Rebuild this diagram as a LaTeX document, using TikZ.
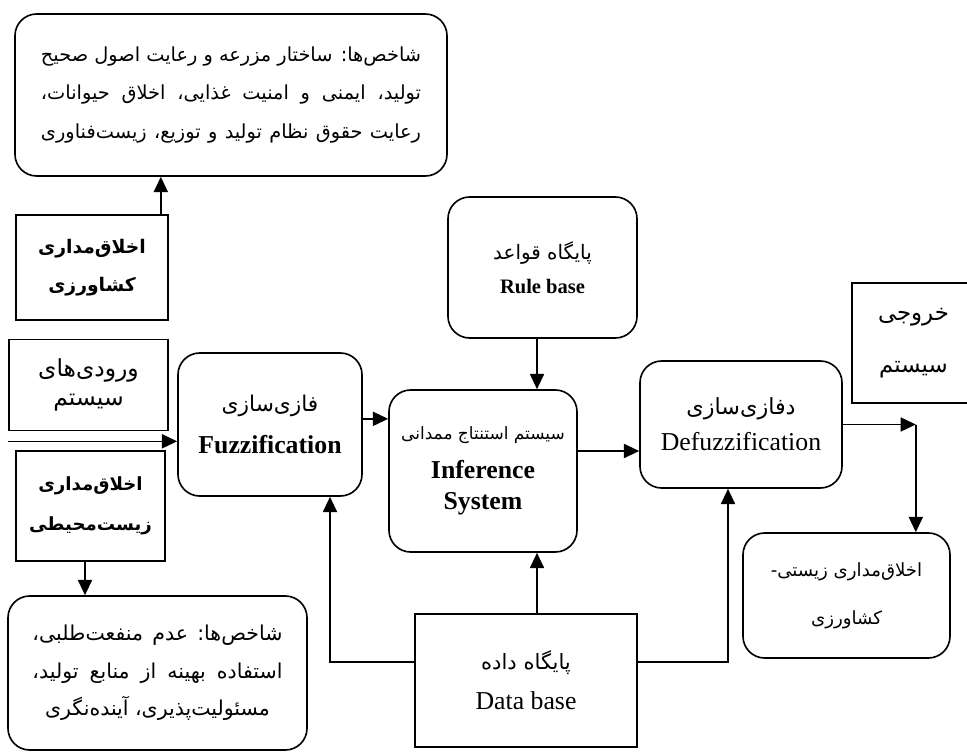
\documentclass[tikz,border=0pt]{standalone}
\usepackage{fontspec}
\setmainfont{Liberation Serif}
\newfontfamily\fa[Script=Arabic]{DejaVu Sans}
\TeXXeTstate=1
\usetikzlibrary{arrows.meta,positioning}
\newcommand{\fatxt}[1]{{\fa\beginR #1\endR}}

\begin{document}
\begin{tikzpicture}[x=0.03cm, y=-0.03cm, line width=1.4pt,
    sz/.style 2 args={minimum width=#1*0.03cm, minimum height=#2*0.03cm},
    rbox/.style={rectangle, draw, rounded corners=0.65cm, align=center, inner sep=2pt},
    sbox/.style={rectangle, draw, align=center, inner sep=2pt},
    arr/.style={-{Triangle[length=13pt, width=12pt]}}]

\useasboundingbox (0,0) rectangle (967,753);
\clip (0,0) rectangle (967,753);

% left column
\node[rbox, sz={432}{162}, font=\fontsize{16.5}{33}\selectfont] (ind1) at (231,95)
    {\hbox to 11.4cm{\fa\beginR شاخص‌ها: ساختار مزرعه و رعایت اصول صحیح\endR}\\
     \hbox to 11.4cm{\fa\beginR تولید، ایمنی و امنیت غذایی، اخلاق حیوانات،\endR}\\
     \hbox to 11.4cm{\fa\beginR رعایت حقوق نظام تولید و توزیع، زیست‌فناوری\endR}};
\node[sbox, sz={152}{105}, font=\fontsize{16}{33}\selectfont\bfseries] (agri) at (92,267.5)
    {\fatxt{اخلاق‌مداری}\\ \fatxt{کشاورزی}};
\node[sbox, sz={159}{91}, font=\fontsize{20}{25}\selectfont] (inputs) at (88.5,385)
    {\fatxt{ورودی‌های}\\ \fatxt{سیستم}};
\node[sbox, sz={149}{110}, font=\fontsize{15.5}{34}\selectfont\bfseries] (env) at (90.5,506)
    {\fatxt{اخلاق‌مداری}\\ \fatxt{زیست‌محیطی}};
\node[rbox, sz={299}{154}, font=\fontsize{17.5}{32}\selectfont] (ind2) at (157.5,673)
    {\hbox to 7.5cm{\fa\beginR شاخص‌ها:\hskip .3em plus 1fil عدم\hskip .3em plus 1fil منفعت‌طلبی،\endR}\\
     \hbox to 7.5cm{\fa\beginR استفاده بهینه از منابع تولید،\endR}\\
     \fatxt{مسئولیت‌پذیری، آینده‌نگری}};

% fuzzy system
\node[rbox, sz={184}{143}, font=\fontsize{22}{36}\selectfont] (fuzz) at (270,424.5)
    {{\fontsize{18.5}{36}\selectfont\fatxt{فازی‌سازی}}\\ \textbf{Fuzzification}};
\node[rbox, sz={189}{141}, font=\fontsize{17.5}{29}\selectfont] (rule) at (542.5,267.5)
    {{\fontsize{17}{29}\selectfont\fatxt{پایگاه قواعد}}\\ \textbf{Rule base}};
\node[rbox, sz={188}{162}, font=\fontsize{22}{27}\selectfont\bfseries] (infer) at (483,471)
    {{\fontsize{14.5}{27}\mdseries\selectfont\fatxt{سیستم استنتاج ممدانی}}\\[6pt] Inference\\ System};
\node[rbox, sz={202}{127}, font=\fontsize{22}{31}\selectfont] (defuzz) at (741,424.5)
    {{\fontsize{19}{31}\selectfont\fatxt{دفازی‌سازی}}\\ Defuzzification};
\node[sbox, sz={222}{133}, font=\fontsize{22}{34}\selectfont] (data) at (526,680.5)
    {{\fontsize{18}{34}\selectfont\fatxt{پایگاه داده}}\\ Data base};

% outputs
\node[sbox, sz={123}{120}, font=\fontsize{19.5}{44}\selectfont] (out) at (913.5,343)
    {\fatxt{خروجی}\\ \fatxt{سیستم}};
\node[rbox, sz={207}{125}, font=\fontsize{15.5}{41}\selectfont] (ethics) at (846.5,595.5)
    {\fatxt{اخلاق‌مداری زیستی-}\\ \fatxt{کشاورزی}};

% connectors
\coordinate (a1) at ([xshift=-0.24cm]agri.north east);
\draw[arr] (a1) -- (a1 |- ind1.south);
\coordinate (i1) at ([yshift=-0.3cm]inputs.south west);
\draw[arr] (i1) -- (i1 -| fuzz.west);
\coordinate (e1) at ([xshift=-0.165cm]env.south);
\draw[arr] (e1) -- (e1 |- ind2.north);
\coordinate (f1) at ([yshift=0.17cm]fuzz.east);
\draw[arr] (f1) -- (f1 -| infer.west);
\coordinate (r1) at ([xshift=-0.165cm]rule.south);
\draw[arr] (r1) -- (r1 |- infer.north);
\coordinate (s1) at ([yshift=0.6cm]infer.east);
\draw[arr] (s1) -- (s1 -| defuzz.west);

\coordinate (d1) at ([yshift=0.555cm]data.west);
\coordinate (d2) at ([yshift=0.555cm]data.east);
\coordinate (d3) at ([xshift=0.33cm]data.north);
\draw[arr] (d1) -| ([xshift=1.8cm]fuzz.south);
\draw[arr] (d3) -- (d3 |- infer.south);
\draw[arr] (d2) -| ([xshift=-0.39cm]defuzz.south);

\coordinate (j1) at ([xshift=2.19cm]defuzz.east);
\draw[arr] (defuzz.east) -- (j1);
\draw[arr] (j1) -- (j1 |- ethics.north);
\end{tikzpicture}
\end{document}
